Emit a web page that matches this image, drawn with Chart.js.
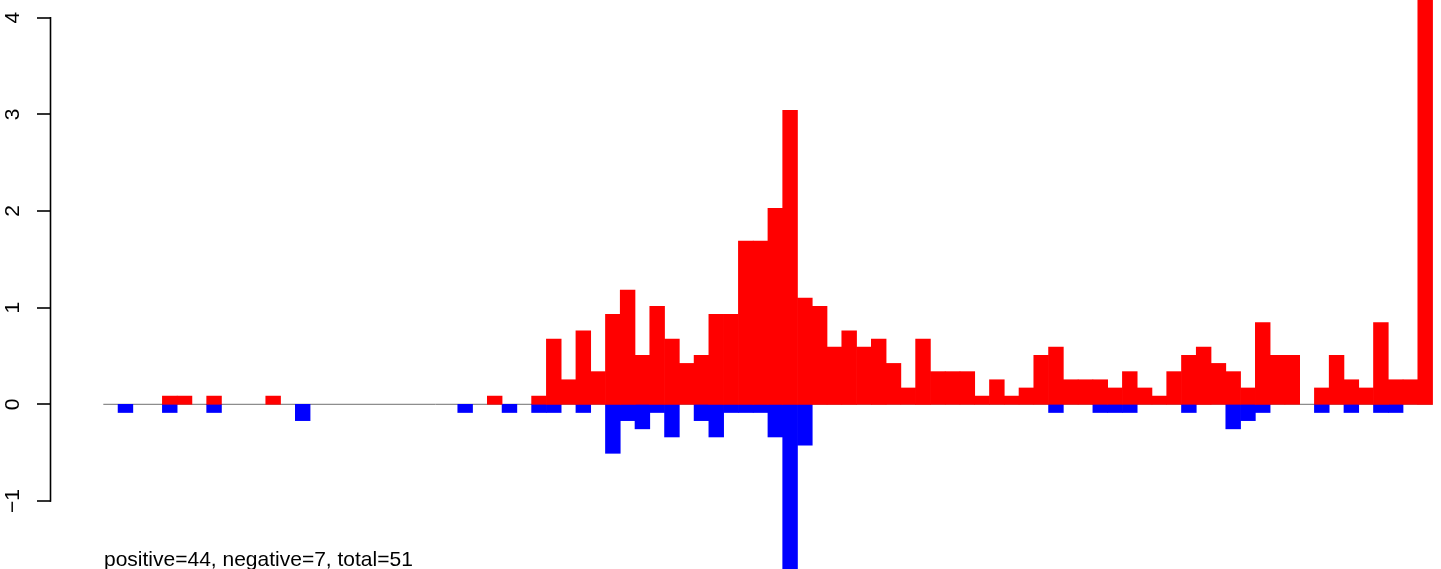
<!DOCTYPE html>
<html>
<head>
<meta charset="utf-8">
<script src="https://cdn.jsdelivr.net/npm/chart.js@4"></script>
<style>
  body { margin: 0; background: #fff; }
  #caja { position: relative; width: 1441px; height: 569px; }
  #nota {
    position: absolute; left: 104px; top: 548px;
    font: 21px 'Liberation Sans', Arial, sans-serif; line-height: 1;
    color: #000; white-space: nowrap;
  }
</style>
</head>
<body>
<div id="caja">
  <canvas id="grafico" width="1441" height="569"></canvas>
  <div id="nota">positive=44, negative=7, total=51</div>
</div>
<script>
// Valores (90 intervalos, null = sin barra)
const positivos = [
  null, null, null, null, 0.085, 0.085, null, 0.085, null, null,
  null, 0.085, null, null, null, null, null, null, null, null,
  null, null, null, null, null, null, 0.085, null, null, 0.085,
  0.676, 0.254, 0.761, 0.338, 0.930, 1.183, 0.507, 1.014, 0.676, 0.423,
  0.507, 0.930, 0.930, 1.690, 1.690, 2.028, 3.042, 1.099, 1.014, 0.592,
  0.761, 0.592, 0.676, 0.423, 0.169, 0.676, 0.338, 0.338, 0.338, 0.085,
  0.254, 0.085, 0.169, 0.507, 0.592, 0.254, 0.254, 0.254, 0.169, 0.338,
  0.169, 0.085, 0.338, 0.507, 0.592, 0.423, 0.338, 0.169, 0.845, 0.507,
  0.507, null, 0.169, 0.507, 0.254, 0.169, 0.845, 0.254, 0.254, 4.6
];
const negativos = [
  null, -0.085, null, null, -0.085, null, null, -0.085, null, null,
  null, null, null, -0.169, null, null, null, null, null, null,
  null, null, null, null, -0.085, null, null, -0.085, null, -0.085,
  -0.085, null, -0.085, null, -0.507, -0.169, -0.254, -0.085, -0.338, null,
  -0.169, -0.338, -0.085, -0.085, -0.085, -0.338, -2.0, -0.423, null, null,
  null, null, null, null, null, null, null, null, null, null,
  null, null, null, null, -0.085, null, null, -0.085, -0.085, -0.085,
  null, null, null, -0.085, null, null, -0.254, -0.169, -0.085, null,
  null, null, -0.085, null, -0.085, null, -0.085, -0.085, null, null
];
const ticksY = [-1, 0, 1, 2, 3, 4];
const lineaCero = [{ x: 0, y: 0 }, { x: 90, y: 0 }];

// centro de cada intervalo en el eje x
const centros = positivos.map((_, i) => i + 0.5);

// plugin: línea del eje y solo entre -1 y 4 (como en R)
const ejeY = {
  id: 'ejeY',
  afterDraw(chart) {
    const y = chart.scales.y;
    const x = chart.chartArea.left - 0.5;
    const ctx = chart.ctx;
    ctx.save();
    ctx.strokeStyle = '#000';
    ctx.lineWidth = 1.6;
    ctx.beginPath();
    ctx.moveTo(x, y.getPixelForValue(ticksY[ticksY.length - 1]) - 0.8);
    ctx.lineTo(x, y.getPixelForValue(ticksY[0]) + 0.8);
    ctx.stroke();
    ctx.restore();
  }
};

Chart.defaults.font.family = "'Liberation Sans', Arial, sans-serif";
Chart.defaults.font.size = 21;
Chart.defaults.color = '#000';

const config = {
  type: 'bar',
  data: {
    labels: centros,
    datasets: [
      { type: 'line', data: lineaCero, borderColor: '#707070', backgroundColor: '#707070', borderWidth: 1, pointRadius: 0, order: 3 },
      { data: positivos, backgroundColor: '#ff0000', borderWidth: 0, grouped: false, barPercentage: 1, categoryPercentage: 1, order: 1 },
      { data: negativos, backgroundColor: '#0000ff', borderWidth: 0, grouped: false, barPercentage: 1, categoryPercentage: 1, order: 2 }
    ]
  },
  options: {
    responsive: false,
    animation: false,
    layout: { padding: 0 },
    plugins: { legend: { display: false }, tooltip: { enabled: false } },
    scales: {
      x: {
        type: 'linear',
        display: false,
        offset: false,
        min: -3.541,
        max: 90.57
      },
      y: {
        min: -1.704,
        max: 4.183,
        afterFit: (s) => {
          s.width = 51;
          s.paddingTop = 0;
          s.paddingBottom = 0;
        },
        afterBuildTicks: (s) => { s.ticks = ticksY.map((v) => ({ value: v })); },
        border: { display: false },
        grid: { drawOnChartArea: false, drawTicks: true, tickLength: 14, color: '#000', lineWidth: 0, tickWidth: 1.6 },
        ticks: {
          minRotation: 90,
          maxRotation: 90,
          crossAlign: 'center',
          padding: 12,
          callback: (v) => (v < 0 ? '\u2212' + Math.abs(v) : String(v))
        }
      }
    }
  },
  plugins: [ejeY]
};

new Chart(document.getElementById('grafico'), config);
</script>
</body>
</html>
